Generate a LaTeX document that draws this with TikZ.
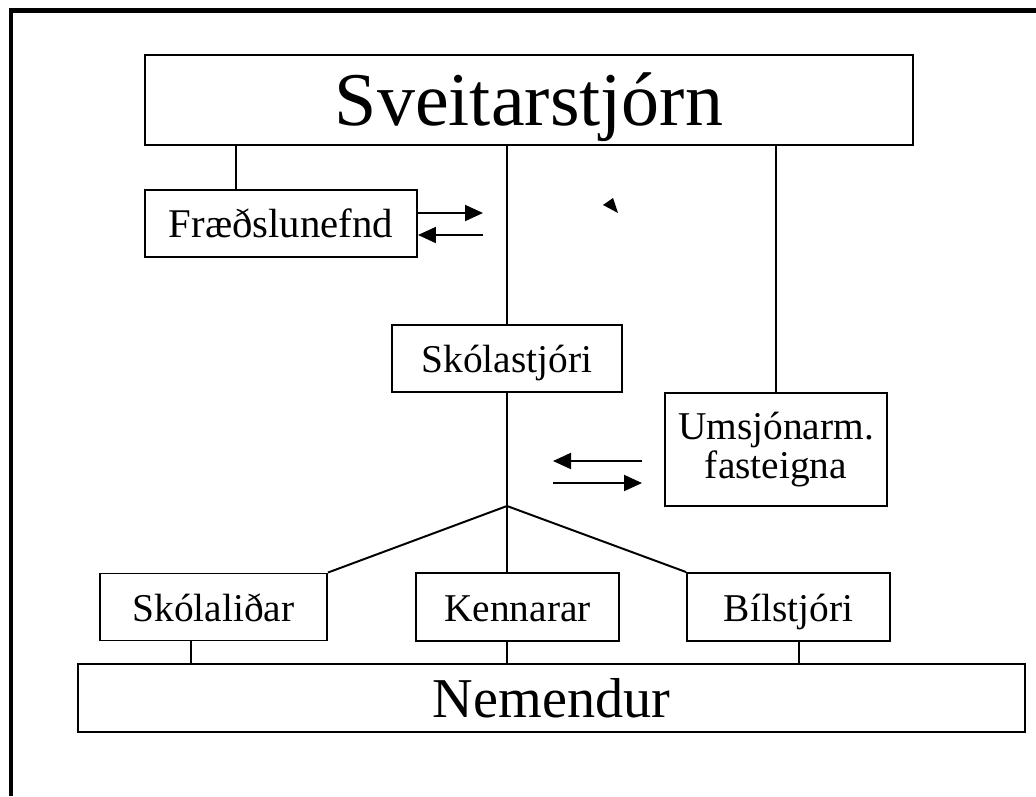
\documentclass[tikz,border=0pt]{standalone}
\usepackage{fontspec}
\setmainfont{Liberation Serif}
\usetikzlibrary{calc,arrows.meta}

\tikzset{
  box/.style={draw, line width=1.4pt, inner sep=0pt,
    text height=22pt, text depth=2pt,
    font=\fontsize{28}{28}\selectfont},
  link/.style={line width=1.4pt},
  arr/.style={line width=1.4pt, -{Triangle[length=18*0.025cm, width=16*0.025cm]}}
}

\begin{document}
\begin{tikzpicture}
                [x=0.025cm,y=-0.025cm]
                \useasboundingbox (0,0) rectangle (1036,796);

                % frame, cut off on the right and at the bottom
                \draw[line width=3.5pt] (11,796) -- (11,10.5) -- (1036,10.5);

                \node[box, minimum width=768*0.025cm, minimum height=90*0.025cm,
                      text height=38pt, text depth=2pt,
                      font=\fontsize{54}{54}\selectfont] (sveit) at (529,100) {Sveitarstjórn};
                \node[box, minimum width=272*0.025cm, minimum height=67*0.025cm,
                      font=\fontsize{29}{29}\selectfont] (fraed) at (281,223.5) {Fræðslunefnd};
                \node[box, minimum width=230*0.025cm, minimum height=67*0.025cm] (skola) at (507,358.5) {Skólastjóri};
                \node[draw, line width=1.4pt, inner sep=0pt, align=center,
                      font=\fontsize{28}{28}\selectfont,
                      minimum width=222*0.025cm, minimum height=113*0.025cm] (umsj) at (776,449.5) {Umsjónarm.\\fasteigna};
                \node[box, minimum width=227*0.025cm, minimum height=67*0.025cm] (lidar) at (213.5,607) {Skólaliðar};
                \node[box, minimum width=203*0.025cm, minimum height=68*0.025cm] (kenn) at (517.5,607) {Kennarar};
                \node[box, minimum width=203*0.025cm, minimum height=68*0.025cm] (bil) at (788.5,607) {Bílstjóri};
                \node[box, minimum width=947*0.025cm, minimum height=68*0.025cm,
                      text height=30pt, text depth=2pt,
                      font=\fontsize{40}{40}\selectfont] (nem) at (551.5,698) {Nemendur};

                \coordinate (junc) at (507,506);

                % top part
                \draw[link] ($(fraed.north west)!.335!(fraed.north east)$) coordinate (fup) -- (fup |- sveit.south);
                \draw[link] (skola.north) -- (skola.north |- sveit.south);
                \draw[link] (umsj.north) -- (umsj.north |- sveit.south);

                % fan out to the staff
                \draw[link] (skola.south) -- (junc);
                \draw[link] (junc) -- (lidar.north east);
                \draw[link] (junc) -- (junc |- kenn.north);
                \draw[link] (junc) -- (bil.north west);

                % staff down to the pupils
                \draw[link] ($(lidar.south west)!.4!(lidar.south east)$) coordinate (l1) -- (l1 |- nem.north);
                \draw[link] (junc |- kenn.south) -- (junc |- nem.north);
                \draw[link] ($(bil.south west)!.55!(bil.south east)$) coordinate (b1) -- (b1 |- nem.north);

                % arrows
                \coordinate (fa) at (483,213);
                \coordinate (fb) at (483,235);
                \draw[arr] (fraed.east |- fa) -- (fa);
                \draw[arr] (fb) -- (fb -| fraed.east);

                \coordinate (ua) at (642,461);
                \coordinate (ub) at (553,461);
                \coordinate (uc) at (553,483);
                \coordinate (ud) at (642,483);
                \draw[arr] (ua) -- (ub);
                \draw[arr] (uc) -- (ud);

                \fill (603,205) -- (613,198) -- (618,213) -- cycle;
            \end{tikzpicture}
\end{document}
